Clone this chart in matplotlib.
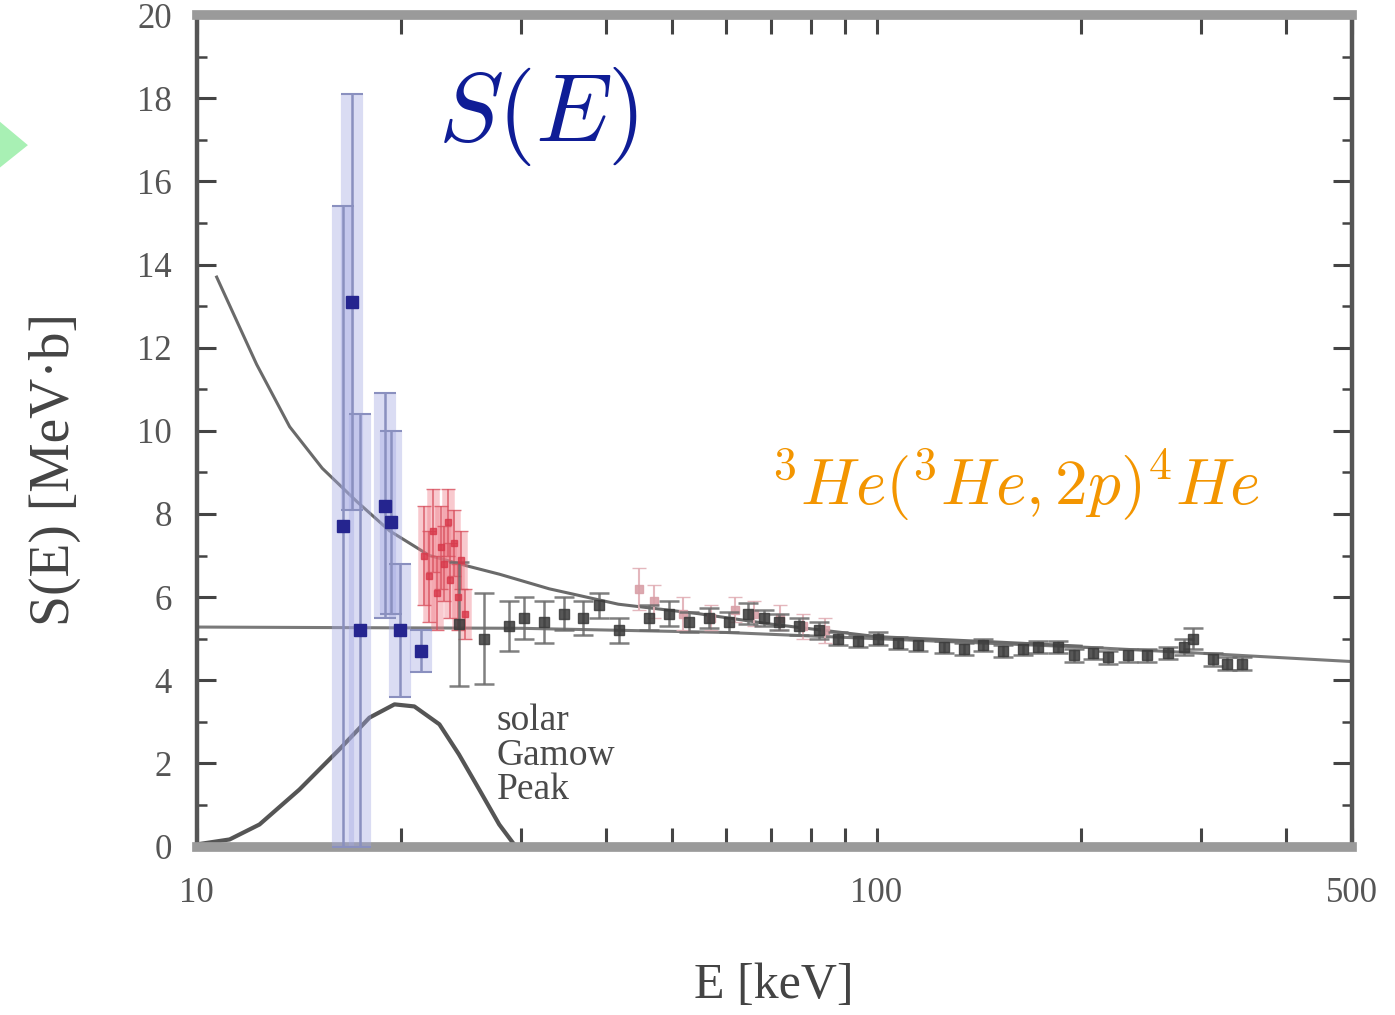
import matplotlib
matplotlib.use("Agg")
import matplotlib.pyplot as plt
from matplotlib.patches import Polygon
from matplotlib.ticker import FixedLocator, NullFormatter, MultipleLocator

plt.rcParams["font.family"] = ["Liberation Serif", "DejaVu Serif"]
plt.rcParams["mathtext.fontset"] = "cm"

# ---- data ---------------------------------------------------------------
# screened fit S(E)
fit_E = [10.7, 12.25, 13.7, 15.3, 17.2, 19.2, 22.0, 25.0, 27.9, 33.0, 41.7, 54.8, 70.0, 100.0, 150.0, 200.0]
fit_S = [13.7, 11.6, 10.1, 9.1, 8.3, 7.6, 7.0, 6.75, 6.55, 6.2, 5.83, 5.6, 5.35, 5.05, 4.92, 4.82]

# bare S(E)
bare_E = [10.0, 30.0, 60.0, 100.0, 200.0, 300.0, 500.0]
bare_S = [5.28, 5.25, 5.15, 5.0, 4.8, 4.65, 4.45]

# solar Gamow peak
gamow_E = [10.0, 11.18, 12.37, 14.16, 16.22, 17.95, 19.54, 20.9, 22.75, 24.3, 26.04, 27.86, 29.3]
gamow_S = [0.05, 0.17, 0.53, 1.37, 2.34, 3.1, 3.42, 3.37, 2.94, 2.22, 1.37, 0.53, 0.05]

# underground data (blue)
blue_E = [16.4, 16.9, 17.4, 18.9, 19.3, 19.9, 21.4]
blue_S = [7.7, 13.1, 5.2, 8.2, 7.8, 5.2, 4.7]
blue_err = [7.7, 5.0, 5.2, 2.7, 2.2, 1.6, 0.5]

# low-energy data (red)
red_E = [21.6, 22.0, 22.3, 22.6, 22.9, 23.1, 23.4, 23.6, 23.9, 24.2, 24.5, 24.8]
red_S = [7.0, 6.5, 7.6, 6.1, 7.2, 6.8, 7.8, 6.4, 7.3, 6.0, 6.9, 5.6]
red_err = [1.2, 1.1, 1.0, 0.9, 1.0, 0.9, 0.8, 0.9, 0.8, 0.8, 0.7, 0.6]

# earlier measurements (pale red)
pink_E = [44.7, 47.0, 52.0, 57.0, 62.0, 66.0, 72.0, 78.0, 84.0]
pink_S = [6.2, 5.9, 5.6, 5.5, 5.7, 5.6, 5.5, 5.3, 5.2]
pink_err = [0.5, 0.4, 0.4, 0.3, 0.3, 0.3, 0.3, 0.3, 0.3]

# other measurements (grey)
grey_E = [24.3, 26.5, 28.8, 30.3, 32.4, 34.7, 37.0, 39.1, 41.8, 46.3, 49.5, 52.9, 56.6, 60.6,
          64.8, 68.2, 71.8, 76.8, 82.2, 87.9, 94.0, 100.5, 107.5, 115.0, 125.6, 134.3, 143.6,
          153.5, 164.0, 173.0, 185.0, 195.0, 208.0, 219.0, 234.0, 250.0, 268.0, 283.0, 292.0,
          312.0, 328.0, 345.0]
grey_S = [5.35, 5.0, 5.3, 5.5, 5.4, 5.6, 5.5, 5.8, 5.2, 5.5, 5.6, 5.4, 5.5, 5.4,
          5.6, 5.5, 5.4, 5.3, 5.2, 5.0, 4.95, 5.0, 4.9, 4.85, 4.8, 4.75, 4.85,
          4.7, 4.75, 4.8, 4.8, 4.6, 4.65, 4.55, 4.6, 4.6, 4.65, 4.8, 5.0,
          4.5, 4.4, 4.4]
grey_err = [1.5, 1.1, 0.6, 0.5, 0.5, 0.4, 0.4, 0.3, 0.3, 0.3, 0.3, 0.25, 0.25, 0.25,
            0.25, 0.2, 0.2, 0.2, 0.2, 0.15, 0.15, 0.15, 0.15, 0.15, 0.15, 0.15, 0.15,
            0.15, 0.15, 0.15, 0.15, 0.15, 0.15, 0.15, 0.15, 0.15, 0.15, 0.2, 0.25,
            0.15, 0.15, 0.15]

x_major = [10, 20, 30, 40, 50, 60, 70, 80, 90, 100, 200, 300, 400, 500]
x_labels = {10: "10", 100: "100", 500: "500"}
y_major = [0, 2, 4, 6, 8, 10, 12, 14, 16, 18, 20]

# ---- figure -------------------------------------------------------------
fig = plt.figure(figsize=(13.95, 10.15), dpi=100)
ax = fig.add_axes([0.141, 0.166, 0.828, 0.819])
ax.set_xscale("log")
ax.set_xlim(10, 500)
ax.set_ylim(0, 20)

# curves
ax.plot(bare_E, bare_S, color="#7a7a7a", lw=2.2, zorder=2)
ax.plot(fit_E, fit_S, color="#6a6a6a", lw=2.2, zorder=2)
ax.plot(gamow_E, gamow_S, color="#555555", lw=3.0, zorder=2)

# blue data: wide translucent bands plus thin error bars
ax.errorbar(blue_E, blue_S, yerr=blue_err, fmt="none", ecolor="#a4a9e2",
            elinewidth=16, alpha=0.4, zorder=3)
ax.errorbar(blue_E, blue_S, yerr=blue_err, fmt="s", ms=8, color="#25258f",
            ecolor="#8a90bf", elinewidth=1.8, capsize=8, capthick=1.5, zorder=5)

# red data
ax.errorbar(red_E, red_S, yerr=red_err, fmt="none", ecolor="#ef7a86",
            elinewidth=9, alpha=0.4, zorder=3)
ax.errorbar(red_E, red_S, yerr=red_err, fmt="s", ms=5, color="#d8384a", mec="#d8384a",
            ecolor="#d8505e", elinewidth=1.2, capsize=5, alpha=0.8, zorder=4)

# pale red data
ax.errorbar(pink_E, pink_S, yerr=pink_err, fmt="s", ms=6, color="#d9a0a8",
            ecolor="#e2b0b6", elinewidth=1.5, capsize=5, alpha=0.9, zorder=3)

# grey data
ax.errorbar(grey_E, grey_S, yerr=grey_err, fmt="s", ms=7, color="#3a3a3a",
            ecolor="#6a6a6a", elinewidth=1.8, capsize=7, capthick=1.8, alpha=0.85, zorder=4)

ax.text(27.6, 0.95, "solar\nGamow\nPeak", fontsize=27, color="#4a4a4a",
        linespacing=1.0, va="bottom", ha="left")

# axes styling
for side in ["left", "right"]:
    ax.spines[side].set_linewidth(3.2)
    ax.spines[side].set_color("#555555")
for side in ["top", "bottom"]:
    ax.spines[side].set_linewidth(7)
    ax.spines[side].set_color("#9a9a9a")

ax.xaxis.set_major_locator(FixedLocator(x_major))
ax.xaxis.set_minor_locator(FixedLocator([]))
ax.set_xticklabels([x_labels.get(v, "") for v in x_major])
ax.xaxis.set_minor_formatter(NullFormatter())
ax.yaxis.set_major_locator(FixedLocator(y_major))
ax.yaxis.set_minor_locator(MultipleLocator(1))
ax.set_yticklabels([str(v) for v in y_major])

ax.tick_params(which="major", direction="in", length=14, width=2.2, color="#444444",
               top=True, right=True, labelsize=25, labelcolor="#555555")
ax.tick_params(axis="y", which="major", pad=18)
ax.tick_params(axis="x", which="major", pad=22)
ax.tick_params(which="minor", direction="in", length=7, width=1.8, color="#444444",
               top=True, right=True)

ax.set_xlabel("E [keV]", fontsize=36, color="#444444")
ax.xaxis.set_label_coords(0.5, -0.168)
ax.set_ylabel("S(E) [MeV·b]", fontsize=40, color="#444444")
ax.yaxis.set_label_coords(-0.123, 0.453)
ax.xaxis.label.set_va("center")
ax.yaxis.label.set_va("center")

# slide overlays
fig.text(0.314, 0.885, r"$S(E)$", fontsize=70, color="#0f1d96", ha="left", va="center")
fig.text(0.553, 0.522, r"$^{3}He(^{3}He,2p)^{4}He$", fontsize=47, color="#f39500",
         ha="left", va="center")
fig.patches.append(Polygon([[0, 0.88], [0, 0.835], [0.02, 0.857]], closed=True,
                           transform=fig.transFigure, facecolor="#a8f0b4",
                           edgecolor="none", figure=fig))

fig.savefig("out.png", dpi=100, facecolor="white")
